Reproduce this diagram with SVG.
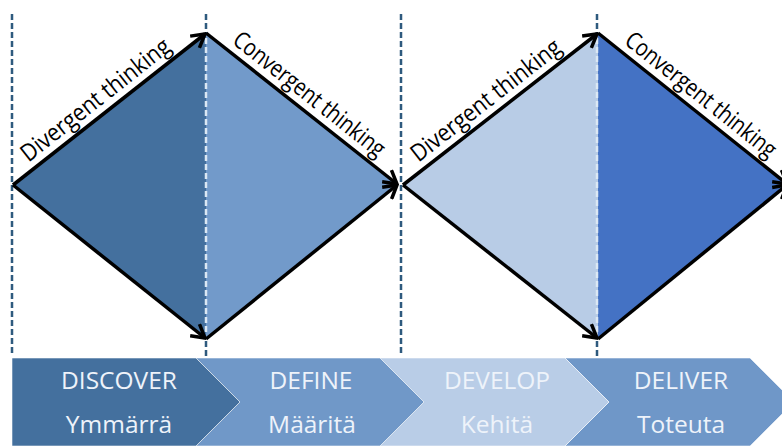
<svg xmlns="http://www.w3.org/2000/svg" width="782" height="446" viewBox="0 0 782 446">
<defs>
<style>
.edge{fill:none;stroke:#000;stroke-width:3.5;marker-end:url(#arr)}
.dash{stroke:#2E5A7E;stroke-width:2.5;stroke-dasharray:6 3;fill:none}
.dashl{stroke:#DCE8F4;stroke-width:2.5;stroke-dasharray:6 3;fill:none}
.lbl{font-family:"Open Sans","Liberation Sans",sans-serif;font-size:24px;fill:#000}
.ph{font-family:"Open Sans","Liberation Sans",sans-serif;font-size:24.5px;fill:#EEF3FA;text-anchor:middle}
.chev{stroke:#ffffff;stroke-opacity:0.55;stroke-width:1}
</style>
<marker id="arr" markerUnits="userSpaceOnUse" viewBox="0 0 16 18" refX="14.5" refY="9" markerWidth="16" markerHeight="18" orient="auto">
<path d="M1.5,1.5 L14.5,9 L1.5,16.5" fill="none" stroke="#000" stroke-width="3.5" stroke-linejoin="miter"/>
</marker>
</defs>
<rect width="782" height="446" fill="#ffffff"/>

<g id="diamond1">
<polygon points="13,185 206,33 206,339" fill="#44709E"/>
<polygon points="206,33 397,184 206,339" fill="#729ACA"/>
</g>
<g id="diamond2">
<polygon points="403,185 598,33 598,339" fill="#B8CCE6"/>
<polygon points="598,33 787,184 598,339" fill="#4472C4"/>
</g>

<g id="guides">
<line class="dash" x1="12" y1="14" x2="12" y2="356"/>
<line class="dash" x1="206" y1="14" x2="206" y2="33"/>
<line class="dashl" x1="206" y1="38" x2="206" y2="335"/>
<line class="dash" x1="206" y1="341" x2="206" y2="362"/>
<line class="dash" x1="401" y1="14" x2="401" y2="356"/>
<line class="dash" x1="597" y1="14" x2="597" y2="33"/>
<line class="dashl" x1="597" y1="38" x2="597" y2="335"/>
<line class="dash" x1="597" y1="341" x2="597" y2="357"/>
</g>

<g id="connectors">
<line class="edge" x1="13" y1="185" x2="205" y2="34"/>
<line class="edge" x1="13" y1="185" x2="205" y2="338"/>
<line class="edge" x1="206" y1="33" x2="397" y2="184"/>
<line class="edge" x1="206" y1="339" x2="397" y2="185"/>
<line class="edge" x1="403" y1="185" x2="597" y2="34"/>
<line class="edge" x1="403" y1="185" x2="597" y2="338"/>
<line class="edge" x1="598" y1="33" x2="787" y2="184"/>
<line class="edge" x1="598" y1="339" x2="787" y2="185"/>
</g>

<g id="labels">
<text class="lbl" transform="translate(13,185) rotate(-38.2)" x="26" y="-8" textLength="183" lengthAdjust="spacingAndGlyphs">Divergent thinking</text>
<text class="lbl" transform="translate(206,33) rotate(38.3)" x="26" y="-8" textLength="186" lengthAdjust="spacingAndGlyphs">Convergent thinking</text>
<text class="lbl" transform="translate(403,185) rotate(-37.9)" x="26" y="-8" textLength="183" lengthAdjust="spacingAndGlyphs">Divergent thinking</text>
<text class="lbl" transform="translate(598,33) rotate(38.6)" x="26" y="-8" textLength="186" lengthAdjust="spacingAndGlyphs">Convergent thinking</text>
</g>

<g id="deliver">
<polygon class="chev" points="565,358 750,358 794,402 750,446 565,446 609,402" fill="#6F97C8"/>
<text class="ph" x="681" y="389">DELIVER</text>
<text class="ph" x="681" y="433">Toteuta</text>
</g>
<g id="develop">
<polygon class="chev" points="380,358 565,358 609,402 565,446 380,446 424,402" fill="#B9CDE7"/>
<text class="ph" x="497" y="389">DEVELOP</text>
<text class="ph" x="497" y="433">Kehitä</text>
</g>
<g id="define">
<polygon class="chev" points="196,358 380,358 424,402 380,446 196,446 240,402" fill="#7098C8"/>
<text class="ph" x="311" y="389">DEFINE</text>
<text class="ph" x="312" y="433">Määritä</text>
</g>
<g id="discover">
<polygon class="chev" points="12,358 196,358 240,402 196,446 12,446" fill="#44709E"/>
<text class="ph" x="119" y="389">DISCOVER</text>
<text class="ph" x="119" y="433">Ymmärrä</text>
</g>
</svg>
